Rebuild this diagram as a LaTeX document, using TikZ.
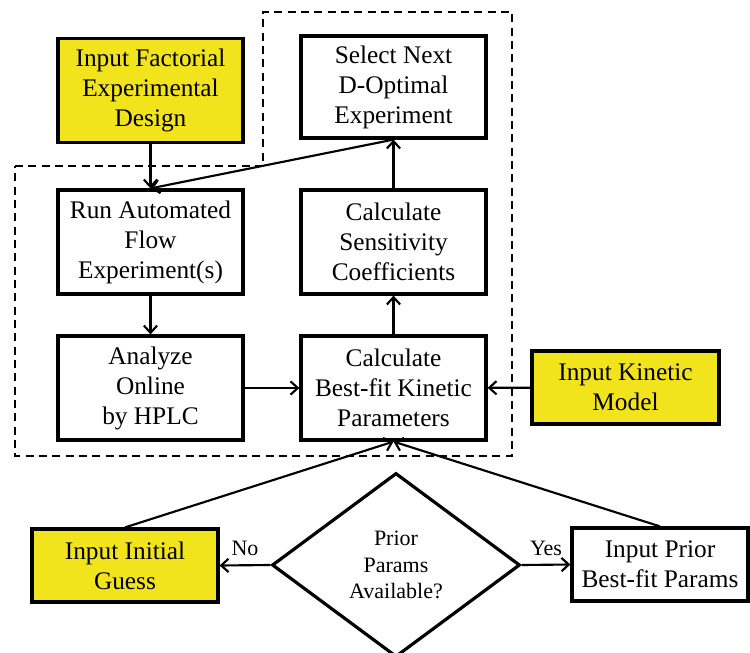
\documentclass[tikz,border=0pt]{standalone}
\usepackage{fontspec}
\setmainfont{Liberation Serif}
\usetikzlibrary{shapes.geometric,arrows.meta}
\definecolor{inputyellow}{RGB}{242,228,28}
\tikzset{
	stepbox/.style={draw, line width=2.4pt, rectangle, align=center, inner sep=0pt, minimum width=138.75pt, minimum height=78pt, font=\fontsize{19}{22.5}\selectfont},
	inputbox/.style={stepbox, fill=inputyellow},
	flowarrow/.style={line width=1.6pt, -{Straight Barb[length=5.5pt,width=10pt]}},
	flowlabel/.style={inner sep=0pt, font=\fontsize{16.5}{20}\selectfont}
}

\begin{document}
\begin{tikzpicture}[x=0.75pt, y=-0.75pt]
			%%%%% START %%%%%
			\useasboundingbox (0, 0) rectangle (750, 653);
			
			\draw[line width=1.5pt, dash pattern=on 6pt off 4pt] (15, 166) -- (263, 166) -- (263, 12) -- (512, 12) -- (512, 456) -- (15, 456) -- cycle;
			
			\node[inputbox] (factorial) at (150.5, 90.5) {Input Factorial\\Experimental\\Design};
			\node[stepbox, minimum height=76.5pt] (select) at (393.5, 87) {Select Next\\D-Optimal\\Experiment};
			\node[stepbox] (run) at (150.5, 242) {Run Automated\\Flow\\Experiment(s)};
			\node[stepbox] (sensitivity) at (393.5, 242) {Calculate\\Sensitivity\\Coefficients};
			\node[stepbox] (analyze) at (150.5, 388) {Analyze\\Online\\by HPLC};
			\node[stepbox] (bestfit) at (393.5, 388) {Calculate\\Best-fit Kinetic\\Parameters};
			
			\node[inputbox, minimum width=140.25pt, minimum height=54.75pt] (kinetic) at (625.5, 387.5) {Input Kinetic\\Model};
			\node[inputbox, minimum width=139.5pt, minimum height=54.75pt] (guess) at (125, 565.5) {Input Initial\\Guess};
			\node[stepbox, minimum width=132pt, minimum height=54.75pt] (prior) at (660, 564.5) {Input Prior\\Best-fit Params};
			
			\node[draw, diamond, line width=2.4pt, aspect=1.348, minimum width=186pt, minimum height=138pt, inner sep=0pt, align=center, font=\fontsize{16.5}{20}\selectfont] (available) at (396, 565) {Prior\\Params\\Available?};
			
			\draw[flowarrow] (factorial) -- (run);
			\draw[flowarrow] (select.south) -- (run.north);
			\draw[flowarrow] (run) -- (analyze);
			\draw[flowarrow] (analyze) -- (bestfit);
			\draw[flowarrow] (bestfit) -- (sensitivity);
			\draw[flowarrow] (sensitivity) -- (select);
			\draw[flowarrow] (kinetic) -- (bestfit);
			
			\draw[flowarrow] (guess.north) -- (bestfit.south);
			\draw[flowarrow] (prior.north) -- (bestfit.south);
			
			\draw[flowarrow] (available.west) -- (guess.east) node[flowlabel, midway, above=6pt] (no) {No};
			\draw[flowarrow] (available.east) -- (prior.west) node[flowlabel, midway, above=6pt] (yes) {Yes};
			
			%%%%% END %%%%%
\end{tikzpicture}
\end{document}
